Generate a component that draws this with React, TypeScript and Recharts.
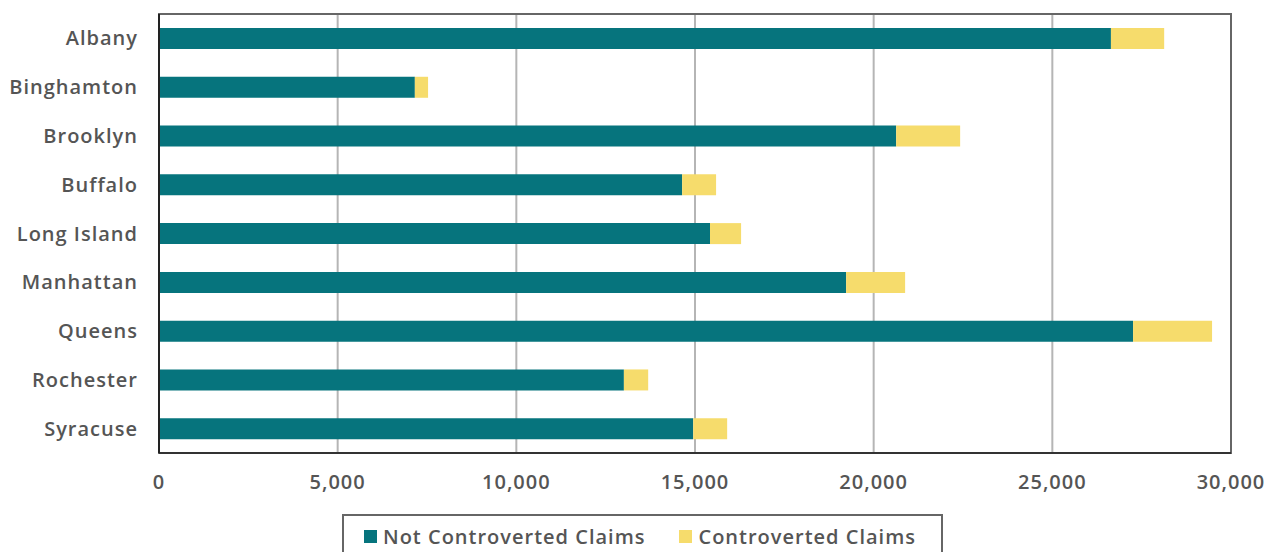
import { BarChart, Bar, XAxis, YAxis, CartesianGrid, ReferenceArea } from "recharts";

const offices = ["Albany", "Binghamton", "Brooklyn", "Buffalo", "Long Island", "Manhattan", "Queens", "Rochester", "Syracuse"];
const notControverted = [26640, 7160, 20630, 14640, 15420, 19230, 27260, 13010, 14950];
const controverted = [1490, 370, 1790, 950, 870, 1650, 2210, 680, 950];
const xTicks = [0, 5000, 10000, 15000, 20000, 25000, 30000];

const TEAL = "#06747d";
const YELLOW = "#f6dc6c";
const TEXT = "#555555";
const FONT = "'Open Sans', Lato, sans-serif";
const textStyle = { fill: TEXT, fontSize: 20, fontWeight: 600, fontFamily: FONT, letterSpacing: 1 };

const data = offices.map((name, i) => ({
  name,
  notControverted: notControverted[i],
  controverted: controverted[i],
}));

const LegendBox = () => (
  <div
    style={{
      position: "absolute",
      left: 342,
      top: 514,
      width: 601,
      height: 50,
      border: "2px solid #666",
      boxSizing: "border-box",
      display: "flex",
      alignItems: "flex-start",
      paddingTop: 7,
      paddingLeft: 20,
      fontFamily: FONT,
      fontWeight: 600,
      fontSize: 20,
      letterSpacing: 1,
      color: TEXT,
      background: "#fff",
    }}
  >
    <span style={{ display: "flex", alignItems: "center" }}>
      <span style={{ width: 13, height: 13, background: TEAL, marginRight: 6 }} />
      Not Controverted Claims
    </span>
    <span style={{ display: "flex", alignItems: "center", marginLeft: 34 }}>
      <span style={{ width: 13, height: 13, background: YELLOW, marginRight: 6 }} />
      Controverted Claims
    </span>
  </div>
);

export default function App() {
  return (
    <div style={{ position: "absolute", left: 0, top: 0, width: 1276, height: 552, overflow: "hidden", background: "#fff" }}>
      <BarChart
        width={1276}
        height={552}
        data={data}
        layout="vertical"
        margin={{ top: 14, right: 45, bottom: 59, left: 0 }}
      >
        <CartesianGrid horizontal={false} stroke="#b5b5b5" strokeWidth={2} />
        <ReferenceArea x1={0} x2={30000} fill="none" stroke="#666" strokeWidth={2} ifOverflow="visible" />
        <XAxis
          type="number"
          domain={[0, 30000]}
          ticks={xTicks}
          height={40}
          tickLine={false}
          tickSize={6}
          tickMargin={16}
          axisLine={{ stroke: "#333", strokeWidth: 2 }}
          tickFormatter={(v: number) => v.toLocaleString("en-US")}
          tick={textStyle}
        />
        <YAxis
          type="category"
          dataKey="name"
          width={159}
          tickLine={false}
          tickSize={6}
          tickMargin={15}
          axisLine={{ stroke: "#222", strokeWidth: 2 }}
          tick={textStyle}
        />
        <Bar dataKey="notControverted" stackId="a" fill={TEAL} barSize={21} isAnimationActive={false} />
        <Bar dataKey="controverted" stackId="a" fill={YELLOW} barSize={21} isAnimationActive={false} />
      </BarChart>
      <LegendBox />
    </div>
  );
}
